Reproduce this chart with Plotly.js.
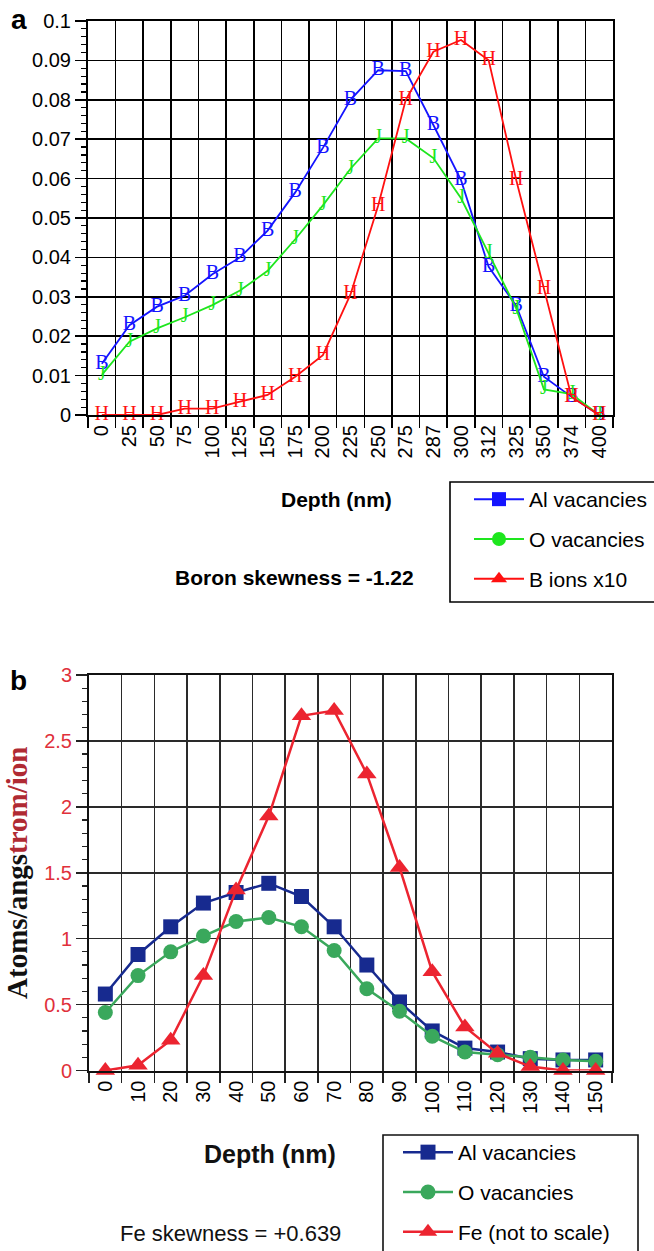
<!DOCTYPE html>
<html><head><meta charset="utf-8">
<script src="https://cdn.plot.ly/plotly-3.0.1.min.js"></script>
<style>html,body{margin:0;padding:0;background:#fff;overflow:hidden}</style>
</head><body><div id="chart" style="width:654px;height:1251px"></div>
<script>
// ---- Panel a data (Boron implant) ----
const depthA = ["0","25","50","75","100","125","150","175","200","225","250","275","287","300","312","325","350","374","400"];
const alVacA = [0.013,0.0228,0.0275,0.0303,0.0357,0.040,0.0468,0.0565,0.0678,0.080,0.0875,0.0873,0.0736,0.0596,0.0376,0.0277,0.0097,0.0046,0];
const oVacA  = [0.0102,0.0186,0.022,0.0248,0.0279,0.0316,0.0366,0.0446,0.0532,0.0625,0.0702,0.0702,0.0652,0.055,0.041,0.027,0.0065,0.0053,0];
const bIonsA = [0,0,0,0.0016,0.0016,0.0034,0.0051,0.0097,0.0152,0.0306,0.0531,0.080,0.0922,0.0952,0.090,0.0596,0.0319,0.0046,0];
const namesA = ["Al vacancies","O vacancies","B ions x10"];
const glyphsA = ["B","J","H"];

// ---- Panel b data (Fe implant) ----
const depthB = ["0","10","20","30","40","50","60","70","80","90","100","110","120","130","140","150"];
const alVacB = [0.58,0.88,1.09,1.27,1.35,1.42,1.32,1.09,0.80,0.52,0.30,0.17,0.14,0.09,0.08,0.08];
const oVacB  = [0.44,0.72,0.90,1.02,1.13,1.16,1.09,0.91,0.62,0.45,0.26,0.14,0.12,0.10,0.08,0.07];
const feB    = [0,0.04,0.23,0.72,1.37,1.93,2.69,2.73,2.25,1.54,0.75,0.33,0.13,0.03,0,0];
const namesB = ["Al vacancies","O vacancies","Fe (not to scale)"];

const W = 654, H = 1251;
const px = v => v / W;
const py = v => 1 - v / H;

const colA = ["#1414ff","#1ee61e","#ff1010"];
const colB = ["#172a8f","#3aa85c","#ec2430"];
const symbols = ["square","circle","triangle-up"];
const seriesA = [alVacA, oVacA, bIonsA];
const seriesB = [alVacB, oVacB, feB];

const traces = [];
// panel a: lines with letter glyphs as markers
seriesA.forEach((s, i) => {
  traces.push({
    x: depthA, y: s, xaxis: 'x', yaxis: 'y', type: 'scatter', mode: 'lines+text',
    text: s.map(() => glyphsA[i]), textposition: 'middle center',
    textfont: {family: 'Liberation Serif, Times New Roman, serif', size: 20, color: colA[i]},
    line: {color: colA[i], width: 1.8}, cliponaxis: false, showlegend: false, hoverinfo: 'x+y'
  });
});
// panel a legend entries
namesA.forEach((n, i) => {
  traces.push({
    x: [null], y: [null], xaxis: 'x', yaxis: 'y', type: 'scatter', mode: 'lines+markers',
    name: n, legend: 'legend', legendgroup: 'a' + i,
    line: {color: colA[i], width: 2}, marker: {symbol: symbols[i], size: 14, color: colA[i]}
  });
});
// panel b
seriesB.forEach((s, i) => {
  traces.push({
    x: depthB, y: s, xaxis: 'x2', yaxis: 'y2', type: 'scatter', mode: 'lines+markers',
    name: namesB[i], legend: 'legend2', legendgroup: 'b' + i,
    line: {color: colB[i], width: 2.5},
    marker: {symbol: symbols[i], size: i === 2 ? 17 : 15, color: colB[i]},
    cliponaxis: false
  });
});

const sans = 'Liberation Sans, Arial, Helvetica, sans-serif';
const baseX = {
  type: 'category', tickson: 'boundaries', showgrid: true, gridwidth: 1.6,
  showline: true, linewidth: 2, mirror: true, ticks: 'outside', ticklen: 11, tickwidth: 1.6,
  tickangle: -90, tickfont: {family: sans, size: 20, color: '#000'}, zeroline: false,
  automargin: false, fixedrange: true
};

function ann(text, x, y, size, color, extra) {
  return Object.assign({text: text, x: px(x), y: py(y), xref: 'paper', yref: 'paper', showarrow: false,
    xanchor: 'center', yanchor: 'middle', font: {family: sans, size: size, color: color}}, extra || {});
}

const layout = {
  width: W, height: H, margin: {l: 0, r: 0, t: 0, b: 0, pad: 0, autoexpand: false},
  paper_bgcolor: '#fff', plot_bgcolor: '#fff',
  font: {family: sans, size: 20, color: '#000'},
  showlegend: true,
  xaxis: Object.assign({}, baseX, {
    domain: [px(88), px(613)], anchor: 'y', range: [-0.5, depthA.length - 0.5],
    gridcolor: '#000', linecolor: '#000', tickcolor: '#000'
  }),
  yaxis: {
    domain: [py(415), py(21)], anchor: 'x', range: [0, 0.1], dtick: 0.01,
    showgrid: true, gridcolor: '#000', gridwidth: 1.6, showline: true, linecolor: '#000', linewidth: 2,
    mirror: true, ticks: 'outside', ticklen: 11, tickwidth: 1.6, tickcolor: '#000',
    tickfont: {family: sans, size: 20, color: '#000'}, zeroline: false, automargin: false, fixedrange: true,
    minor: {dtick: 0.002, ticks: 'outside', ticklen: 5, tickwidth: 1.2, tickcolor: '#000', showgrid: false}
  },
  xaxis2: Object.assign({}, baseX, {
    domain: [px(89), px(612)], anchor: 'y2', range: [-0.5, depthB.length - 0.5],
    gridcolor: '#2a2a2a', linecolor: '#111', tickcolor: '#222', ticklen: 10
  }),
  yaxis2: {
    domain: [py(1070.5), py(675)], anchor: 'x2', range: [0, 3], dtick: 0.5,
    showgrid: true, gridcolor: '#2a2a2a', gridwidth: 1.6, showline: true, linecolor: '#111', linewidth: 2,
    mirror: true, ticks: 'outside', ticklen: 11, tickwidth: 1.6, tickcolor: '#222',
    tickfont: {family: sans, size: 20, color: '#e0303a'}, zeroline: false, automargin: false, fixedrange: true,
    minor: {dtick: 0.1, ticks: 'outside', ticklen: 5, tickwidth: 1.2, tickcolor: '#222', showgrid: false},
    title: {
      text: '<b><span style="color:#111">Atoms/angs</span><span style="color:#b02a33">trom/ion</span></b>',
      font: {family: 'Liberation Serif, Times New Roman, serif', size: 29}, standoff: 8
    }
  },
  legend: {
    x: px(469), y: py(479), xanchor: 'left', yanchor: 'top',
    borderwidth: 0, bgcolor: 'rgba(0,0,0,0)',
    font: {family: sans, size: 21, color: '#000'},
    traceorder: 'grouped', tracegroupgap: 9.5, itemwidth: 50
  },
  legend2: {
    x: px(398), y: py(1132), xanchor: 'left', yanchor: 'top',
    borderwidth: 0, bgcolor: 'rgba(0,0,0,0)',
    font: {family: sans, size: 21, color: '#000'},
    traceorder: 'grouped', tracegroupgap: 9.5, itemwidth: 50
  },
  shapes: [
    {type: 'rect', xref: 'paper', yref: 'paper', x0: px(450), x1: px(660), y0: py(602), y1: py(482),
     line: {color: '#000', width: 1.6}, fillcolor: 'rgba(0,0,0,0)', layer: 'below'},
    {type: 'rect', xref: 'paper', yref: 'paper', x0: px(383), x1: px(638), y0: py(1260), y1: py(1135),
     line: {color: '#111', width: 1.6}, fillcolor: 'rgba(0,0,0,0)', layer: 'below'}
  ],
  annotations: [
    ann('<b>a</b>', 18.5, 19.5, 28, '#000'),
    ann('<b>b</b>', 18.5, 681, 28, '#000'),
    ann('<b>Depth (nm)</b>', 336.5, 499, 21, '#000'),
    ann('<b>Boron skewness = -1.22</b>', 294.5, 577, 21, '#000'),
    ann('<b>Depth (nm)</b>', 270, 1154, 25, '#111'),
    ann('Fe skewness = +0.639', 230.5, 1233, 22, '#111')
  ]
};

Plotly.newPlot('chart', traces, layout, {displayModeBar: false, staticPlot: true});
</script>
</body></html>
